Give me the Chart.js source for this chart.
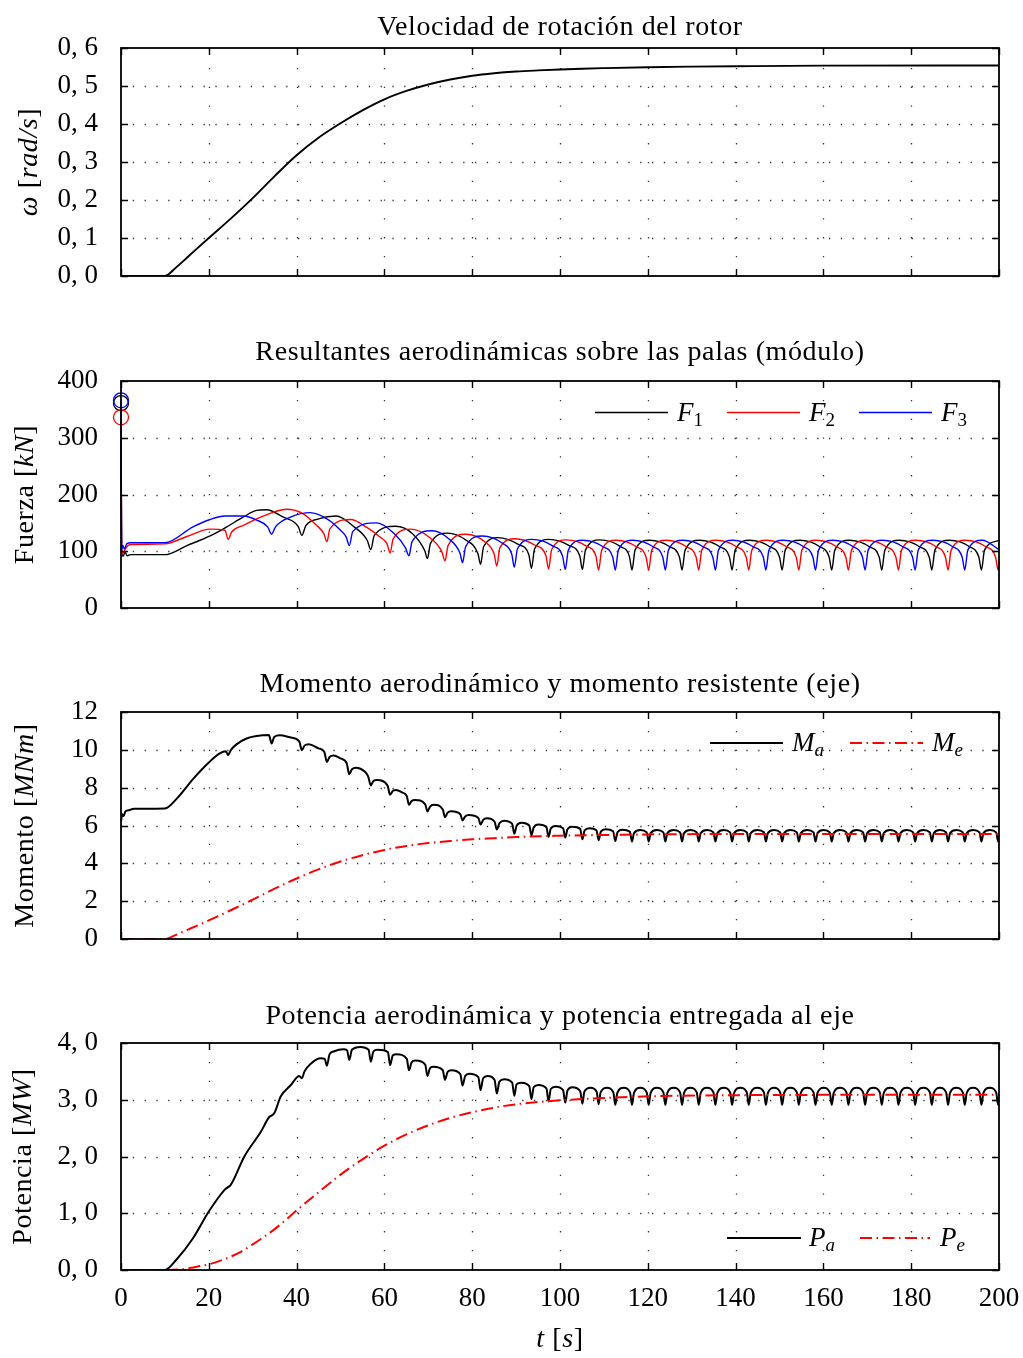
<!DOCTYPE html>
<html><head><meta charset="utf-8">
<script src="https://cdn.jsdelivr.net/npm/chart.js@4.4.1/dist/chart.umd.min.js"></script>
<style>
html,body{margin:0;padding:0;background:#fff;}
#wrap{position:relative;width:1023px;height:1358px;overflow:hidden;}
canvas{position:absolute;left:0;}
</style></head><body><div id="wrap">
<canvas id="c1" width="1023" height="300" style="top:0px"></canvas>
<canvas id="c2" width="1023" height="330" style="top:300px"></canvas>
<canvas id="c3" width="1023" height="330" style="top:630px"></canvas>
<canvas id="c4" width="1023" height="398" style="top:960px"></canvas>
</div>
<script>
// ---------------- data ----------------
const X_TICKS = [0,20,40,60,80,100,120,140,160,180,200];
const OMEGA_TICKS = [0,0.1,0.2,0.3,0.4,0.5,0.6];
const OMEGA_TICK_LABELS = ['0, 0','0, 1','0, 2','0, 3','0, 4','0, 5','0, 6'];
const FORCE_TICKS = [0,100,200,300,400];
const FORCE_TICK_LABELS = ['0','100','200','300','400'];
const MOMENT_TICKS = [0,2,4,6,8,10,12];
const MOMENT_TICK_LABELS = ['0','2','4','6','8','10','12'];
const POWER_TICKS = [0,1,2,3,4];
const POWER_TICK_LABELS = ['0, 0','1, 0','2, 0','3, 0','4, 0'];
const PANEL_TITLES = ['Velocidad de rotación del rotor','Resultantes aerodinámicas sobre las palas (módulo)','Momento aerodinámico y momento resistente (eje)','Potencia aerodinámica y potencia entregada al eje'];

// rotor speed [t, rad/s]
const OMEGA = [[0,0],[10,0],[12.5,0.022],[15,0.048],[20,0.1],[25,0.151],[30,0.205],[35,0.263],[40,0.318],[45,0.364],[50,0.402],[55,0.436],[60,0.465],[65,0.487],[70,0.504],[75,0.517],[80,0.527],[85,0.5335],[90,0.538],[95,0.541],[100,0.5435],[105,0.5455],[110,0.547],[120,0.5495],[130,0.551],[140,0.552],[160,0.5535],[200,0.554]];

// blade forces [t, kN]
const F1 = [[0,361],[0.15,100],[0.5,91],[0.9,99],[1.4,92],[2.2,94],[10,94],[15,110],[20.3,127],[24.1,143],[27.8,160],[30.9,172],[33.1,173],[37,160],[40.4,143],[41.2,128],[42.1,145],[45,157],[49,162],[53.1,143],[56.1,119],[56.9,103],[57.7,128],[62.6,144],[66.4,131],[69.2,101],[69.8,87],[70.5,114],[74.4,132],[78.5,120],[81.3,96],[81.9,77],[82.6,108],[85.9,124],[90.5,112],[92.9,94],[93.5,70],[94.2,104],[97.5,121],[102.1,110],[104.5,92],[105.1,68],[105.8,102],[109.1,120],[113.7,108.5],[115.8,91],[116.4,67],[117.1,102],[120.4,119.5],[125,108],[127.2,90],[127.8,67],[128.5,102],[131.8,119.5],[136.4,108],[138.6,90],[139.2,67],[139.9,102],[143.2,119.5],[147.8,108],[150,90],[150.6,67],[151.3,102],[154.6,119.5],[159.2,108],[161.3,90],[161.9,67],[162.6,102],[165.9,119.5],[170.5,108],[172.7,90],[173.3,67],[174,102],[177.3,119.5],[181.9,108],[184.1,90],[184.7,67],[185.4,102],[188.7,119.5],[193.3,108],[195.4,90],[196,67],[196.7,102],[200,119]];
const F2 = [[0,336],[0.15,100],[0.5,97],[1,104],[1.6,110],[2.5,112],[10,113],[15,126],[20.3,139],[23.7,137],[24.4,121],[25.2,134],[28,146],[31.8,160],[35.6,171],[37.7,174],[41.5,166],[44.5,146],[46.2,131],[46.9,117],[47.6,140],[52.3,156],[56,142],[59,125],[60.6,113],[61.3,97],[62,122],[66,139],[70,126],[73.1,99],[73.8,83],[74.5,110],[78.5,130],[83,116],[85,95],[85.6,74],[86.3,106],[89.8,122],[94.2,111],[96.8,92],[97.4,69],[98.1,103],[101.4,120],[106,109],[108.2,91],[108.8,67],[109.5,102],[112.8,119.5],[117.4,108],[119.6,90],[120.2,67],[120.9,102],[124.2,119.5],[128.8,108],[131,90],[131.6,67],[132.3,102],[135.6,119.5],[140.2,108],[142.4,90],[143,67],[143.7,102],[147,119.5],[151.6,108],[153.8,90],[154.4,67],[155.1,102],[158.4,119.5],[163,108],[165.1,90],[165.7,67],[166.4,102],[169.7,119.5],[174.3,108],[176.5,90],[177.1,67],[177.8,102],[181.1,119.5],[185.7,108],[187.8,90],[188.4,67],[189.1,102],[192.4,119.5],[197,108],[199.2,90],[199.8,67],[200,82]];
const F3 = [[0,366],[0.15,103],[0.4,110],[0.8,104],[1.3,113],[2.2,115],[10,115],[16.4,143],[20.3,156],[23.7,162],[27.8,162],[30.9,155],[33.4,143],[34.3,130],[35.2,143],[38.6,160],[43.1,168],[46.9,157],[50,137],[51.3,125],[52,110],[52.8,135],[58.3,150],[62.1,132],[64.8,106],[65.6,92],[66.3,117],[70.9,136],[74.5,123],[77.2,97],[77.8,80],[78.5,108],[82.3,127],[86.9,114],[89,95],[89.6,72],[90.3,104],[93.6,121],[98.2,110],[100.6,91],[101.2,68],[101.9,102],[105.2,119.5],[109.8,108],[112,90],[112.6,67],[113.3,102],[116.6,119.5],[121.2,108],[123.4,90],[124,67],[124.7,102],[128,119.5],[132.6,108],[134.8,90],[135.4,67],[136.1,102],[139.4,119.5],[144,108],[146.3,90],[146.9,67],[147.6,102],[150.9,119.5],[155.5,108],[157.6,90],[158.2,67],[158.9,102],[162.2,119.5],[166.8,108],[168.9,90],[169.5,67],[170.2,102],[173.5,119.5],[178.1,108],[180.3,90],[180.9,67],[181.6,102],[184.9,119.5],[189.5,108],[191.6,90],[192.2,67],[192.9,102],[196.2,119.5],[200,103]];

// aerodynamic moment Ma and shaft moment Me [t, MNm]
const MA = [[0,6.2],[0.3,6.6],[0.6,6.5],[1,6.75],[1.6,6.8],[3,6.88],[10,6.9],[12.7,7.42],[16.5,8.48],[20,9.33],[22.5,9.81],[23.9,9.92],[24.4,9.72],[25,9.98],[26.3,10.29],[28.6,10.6],[30.9,10.73],[33.7,10.78],[34.3,10.34],[34.9,10.68],[36.2,10.77],[38.5,10.66],[40.6,10.45],[41.2,9.98],[41.8,10.22],[42.8,10.3],[45,10.08],[46.3,9.9],[46.9,9.36],[47.5,9.62],[48.4,9.7],[50,9.55],[51.4,9.3],[52,8.71],[52.6,8.97],[53.6,9.05],[55.5,8.85],[56.3,8.6],[56.9,8.12],[57.5,8.35],[58.3,8.4],[60.7,8.12],[61.3,7.63],[61.9,7.82],[62.6,7.88],[64,7.75],[65.1,7.55],[65.6,7.1],[66.2,7.3],[67,7.35],[69.3,7.12],[69.8,6.74],[70.4,7.0],[71.2,7.1],[73.3,6.85],[73.8,6.44],[74.4,6.68],[75.2,6.75],[77.3,6.6],[77.8,6.27],[78.4,6.48],[79.2,6.55],[81.4,6.4],[81.9,6.05],[82.5,6.3],[83.4,6.38],[85.1,6.2],[85.6,5.79],[86.2,6.12],[87.3,6.25],[89.1,6.08],[89.6,5.56],[90.1,5.98],[91.2,6.15],[93,6.0],[93.5,5.48],[94,5.9],[95.1,6.05],[96.9,5.92],[97.4,5.4],[97.9,5.84],[99,5.97],[100.7,5.86],[101.2,5.36],[101.7,5.8],[102.8,5.93],[104.6,5.82],[105.1,5.27],[105.6,5.74],[106.7,5.86],[108.3,5.75],[108.8,5.22],[109.3,5.68],[110.4,5.8],[112.1,5.7],[112.6,5.18],[113.1,5.64],[114.2,5.77],[115.9,5.68],
[116.4,5.15],[116.85,5.6],[118.3,5.76],[119.75,5.64],[120.2,5.15],[120.65,5.6],[122.1,5.76],[123.55,5.64],[124,5.15],[124.45,5.6],[125.9,5.76],[127.35,5.64],[127.8,5.15],[128.25,5.6],[129.7,5.76],[131.15,5.64],[131.6,5.15],[132.05,5.6],[133.5,5.76],[134.95,5.64],[135.4,5.15],[135.85,5.6],[137.3,5.76],[138.75,5.64],[139.2,5.15],[139.65,5.6],[141.1,5.76],[142.55,5.64],[143,5.15],[143.45,5.6],[144.95,5.76],[146.45,5.64],[146.9,5.15],[147.35,5.6],[148.75,5.76],[150.15,5.64],[150.6,5.15],[151.05,5.6],[152.5,5.76],[153.95,5.64],[154.4,5.15],[154.85,5.6],[156.3,5.76],[157.75,5.64],[158.2,5.15],[158.65,5.6],[160.05,5.76],[161.45,5.64],[161.9,5.15],[162.35,5.6],[163.8,5.76],[165.25,5.64],[165.7,5.15],[166.15,5.6],[167.6,5.76],[169.05,5.64],[169.5,5.15],[169.95,5.6],[171.4,5.76],[172.85,5.64],[173.3,5.15],[173.75,5.6],[175.2,5.76],[176.65,5.64],[177.1,5.15],[177.55,5.6],[179,5.76],[180.45,5.64],[180.9,5.15],[181.35,5.6],[182.8,5.76],[184.25,5.64],[184.7,5.15],[185.15,5.6],[186.55,5.76],[187.95,5.64],[188.4,5.15],[188.85,5.6],[190.3,5.76],[191.75,5.64],[192.2,5.15],[192.65,5.6],[194.1,5.76],[195.55,5.64],[196,5.15],[196.45,5.6],[197.9,5.76],[199.35,5.64],[199.8,5.15],[200,5.45]];
const ME = [[0,0],[10,0],[11,0.06],[13,0.27],[15,0.47],[17.5,0.72],[20,0.98],[25,1.52],[30,2.08],[35,2.66],[40,3.2],[45,3.68],[50,4.1],[55,4.43],[60,4.71],[65,4.92],[70,5.07],[75,5.18],[80,5.27],[85,5.33],[90,5.39],[100,5.46],[110,5.5],[120,5.53],[140,5.55],[200,5.55]];

// aerodynamic power Pa and shaft power Pe [t, MW]
const PA = [[0,0],[10,0],[12.6,0.18],[16.4,0.56],[20,1.03],[23.7,1.42],[24.4,1.46],[25,1.5],[28.1,2.0],[31.9,2.44],[33.8,2.7],[34.3,2.72],[34.9,2.76],[36.4,3.06],[38.7,3.26],[40.6,3.42],[41.2,3.38],[41.8,3.5],[43.3,3.64],[45.5,3.73],[46.4,3.72],[46.9,3.6],[47.5,3.8],[48.4,3.85],[50.7,3.89],[51.5,3.87],[52,3.7],[52.6,3.88],[54.5,3.93],[56.4,3.88],[56.9,3.67],[57.5,3.85],[58.4,3.88],[60.8,3.84],[61.3,3.61],[61.9,3.78],[62.8,3.8],[65.1,3.72],[65.6,3.52],[66.2,3.66],[67.1,3.69],[69.3,3.62],[69.8,3.42],[70.4,3.56],[71.2,3.58],[73.3,3.52],[73.8,3.35],[74.4,3.49],[75.3,3.52],[77.3,3.45],[77.8,3.25],[78.4,3.42],[79.3,3.46],[81.4,3.4],[81.9,3.17],[82.5,3.38],[83.5,3.42],[85.1,3.35],[85.6,3.11],[86.2,3.32],[87.3,3.36],[89.1,3.3],[89.6,3.07],[90.1,3.27],[91.2,3.3],[93,3.24],[93.5,3.01],[94,3.22],[95.1,3.26],[96.9,3.2],[97.4,2.97],[97.9,3.19],[99,3.23],[100.7,3.17],[101.2,2.95],[101.7,3.16],[102.8,3.22],[104.6,3.15],[105.1,2.93],[105.55,3.14],[106.95,3.21],[108.35,3.14],[108.8,2.92],[109.25,3.13],[110.7,3.21],[112.15,3.13],[112.6,2.91],[113.05,3.12],[114.5,3.21],[115.95,3.13],
[116.4,2.91],[116.85,3.12],[118.3,3.21],[119.75,3.13],[120.2,2.91],[120.65,3.12],[122.1,3.21],[123.55,3.13],[124,2.91],[124.45,3.12],[125.9,3.21],[127.35,3.13],[127.8,2.91],[128.25,3.12],[129.7,3.21],[131.15,3.13],[131.6,2.91],[132.05,3.12],[133.5,3.21],[134.95,3.13],[135.4,2.91],[135.85,3.12],[137.3,3.21],[138.75,3.13],[139.2,2.91],[139.65,3.12],[141.1,3.21],[142.55,3.13],[143,2.91],[143.45,3.12],[144.95,3.21],[146.45,3.13],[146.9,2.91],[147.35,3.12],[148.75,3.21],[150.15,3.13],[150.6,2.91],[151.05,3.12],[152.5,3.21],[153.95,3.13],[154.4,2.91],[154.85,3.12],[156.3,3.21],[157.75,3.13],[158.2,2.91],[158.65,3.12],[160.05,3.21],[161.45,3.13],[161.9,2.91],[162.35,3.12],[163.8,3.21],[165.25,3.13],[165.7,2.91],[166.15,3.12],[167.6,3.21],[169.05,3.13],[169.5,2.91],[169.95,3.12],[171.4,3.21],[172.85,3.13],[173.3,2.91],[173.75,3.12],[175.2,3.21],[176.65,3.13],[177.1,2.91],[177.55,3.12],[179,3.21],[180.45,3.13],[180.9,2.91],[181.35,3.12],[182.8,3.21],[184.25,3.13],[184.7,2.91],[185.15,3.12],[186.55,3.21],[187.95,3.13],[188.4,2.91],[188.85,3.12],[190.3,3.21],[191.75,3.13],[192.2,2.91],[192.65,3.12],[194.1,3.21],[195.55,3.13],[196,2.91],[196.45,3.12],[197.9,3.21],[199.35,3.13],[199.8,2.91],[200,3.05]];
const PE = [[0,0],[10,0],[12,0.004],[14,0.015],[16,0.038],[18,0.07],[20,0.1],[22.5,0.16],[25,0.235],[27.5,0.33],[30,0.45],[32.5,0.58],[35,0.72],[37.5,0.88],[40,1.05],[45,1.37],[50,1.68],[55,1.95],[60,2.19],[65,2.39],[70,2.55],[75,2.68],[80,2.78],[85,2.86],[90,2.92],[100,2.99],[110,3.03],[120,3.06],[140,3.08],[200,3.09]];

// ---------------- drawing ----------------
const SERIF = "'Liberation Serif','DejaVu Serif',serif";
const DASHDOT = [12,4.5,1.5,4.5];
const toXY = arr => arr.map(p => ({x:p[0], y:p[1]}));
function fnt(sz, it){ return (it ? 'italic ' : '') + sz + 'px ' + SERIF; }
function richWidth(ctx, parts){ let w = 0; for (const p of parts){ ctx.font = fnt(p.s||28, p.i); w += ctx.measureText(p.t).width; } return w; }
function drawRich(ctx, parts, x, y, center, spacing){
  ctx.textAlign = 'left'; ctx.textBaseline = 'alphabetic'; ctx.fillStyle = '#000';
  try { ctx.letterSpacing = spacing || '0px'; } catch(e) {}
  let cx = center ? x - richWidth(ctx, parts)/2 : x;
  for (const p of parts){ ctx.font = fnt(p.s||28, p.i); ctx.fillText(p.t, cx, y + (p.dy||0)); cx += ctx.measureText(p.t).width; }
  try { ctx.letterSpacing = '0px'; } catch(e) {}
}

function panelPlugin(cfg){
  return {
    id: 'panelDeco',
    beforeDatasetsDraw(chart){
      const {ctx, chartArea:a} = chart; const xs = chart.scales.x, ys = chart.scales.y;
      ctx.save(); ctx.strokeStyle = '#333'; ctx.lineWidth = 1.3;
      ctx.setLineDash([1.3, 10.5]);
      ys.ticks.forEach(t => { const py = Math.round(ys.getPixelForValue(t.value)) + 0.5; if (py <= a.top + 2 || py >= a.bottom - 2) return; ctx.beginPath(); ctx.moveTo(a.left, py); ctx.lineTo(a.right, py); ctx.stroke(); });
      ctx.setLineDash([1.3, 17.5]);
      xs.ticks.forEach(t => { const px = Math.round(xs.getPixelForValue(t.value)) + 0.5; if (px <= a.left + 2 || px >= a.right - 2) return; ctx.beginPath(); ctx.moveTo(px, a.bottom); ctx.lineTo(px, a.top); ctx.stroke(); });
      ctx.restore();
    },
    afterDatasetsDraw(chart){
      const {ctx, chartArea:a} = chart; const xs = chart.scales.x, ys = chart.scales.y;
      ctx.save(); ctx.strokeStyle = '#000'; ctx.setLineDash([]);
      ctx.lineWidth = 1.4;
      xs.ticks.forEach(t => { const px = Math.round(xs.getPixelForValue(t.value)) + 0.5; ctx.beginPath(); ctx.moveTo(px, a.top); ctx.lineTo(px, a.top + 7); ctx.moveTo(px, a.bottom); ctx.lineTo(px, a.bottom - 7); ctx.stroke(); });
      ys.ticks.forEach(t => { const py = Math.round(ys.getPixelForValue(t.value)) + 0.5; ctx.beginPath(); ctx.moveTo(a.left, py); ctx.lineTo(a.left + 7, py); ctx.moveTo(a.right, py); ctx.lineTo(a.right - 7, py); ctx.stroke(); });
      ctx.lineWidth = 1.8;
      ctx.strokeRect(a.left, a.top, a.right - a.left, a.bottom - a.top);
      (cfg.legend || []).forEach(e => {
        const y = e.y - cfg.top;
        ctx.strokeStyle = e.color; ctx.lineWidth = e.w; ctx.setLineDash(e.dash || []);
        ctx.beginPath(); ctx.moveTo(e.x0, y); ctx.lineTo(e.x1, y); ctx.stroke();
        ctx.setLineDash([]);
        drawRich(ctx, [{t:e.label, i:true, s:27}, {t:e.sub, i:e.subIt, s:19, dy:5}], e.tx, y + 8, false);
      });
      ctx.restore();
    },
    afterDraw(chart){
      const {ctx, chartArea:a} = chart;
      ctx.save();
      drawRich(ctx, [{t:cfg.title, s:28}], (a.left + a.right)/2, cfg.titleY - cfg.top, true, '0.6px');
      ctx.translate(cfg.yTitleX, (a.top + a.bottom)/2);
      ctx.rotate(-Math.PI/2);
      drawRich(ctx, cfg.yTitle, 0, 8, true, '0.6px');
      ctx.restore();
      if (cfg.xTitle){ ctx.save(); drawRich(ctx, cfg.xTitle, (a.left + a.right)/2, cfg.xTitleY - cfg.top, true, '0.6px'); ctx.restore(); }
    }
  };
}

function makePanel(cfg){
  return new Chart(document.getElementById(cfg.id), {
    type: 'line',
    data: {datasets: cfg.datasets},
    options: {
      responsive: false, animation: false, devicePixelRatio: 1,
      layout: {padding: {top: cfg.padTop, right: 24, left: 0, bottom: 0}},
      plugins: {legend: {display: false}, tooltip: {enabled: false}, title: {display: false}},
      elements: {point: {radius: 0}},
      scales: {
        x: {type: 'linear', min: 0, max: 200,
            afterBuildTicks: s => { s.ticks = X_TICKS.map(v => ({value: v})); },
            grid: {display: false}, border: {display: false},
            ticks: {display: !!cfg.showX, color: '#000', font: {family: SERIF, size: 27}, padding: 5, maxRotation: 0, autoSkip: false, callback: v => String(v)},
            afterFit: s => { s.height = cfg.bottomH; s.paddingLeft = 0; s.paddingRight = 0; }},
        y: {type: 'linear', min: cfg.yTicks[0], max: cfg.yTicks[cfg.yTicks.length - 1],
            afterBuildTicks: s => { s.ticks = cfg.yTicks.map(v => ({value: v})); },
            grid: {display: false}, border: {display: false},
            ticks: {color: '#000', font: {family: SERIF, size: 27}, padding: 15, autoSkip: false,
                    callback: v => { const i = cfg.yTicks.findIndex(t => Math.abs(t - v) < 1e-9); return cfg.yLabels[i]; }},
            afterFit: s => { s.width = 121; s.paddingTop = 0; s.paddingBottom = 0; }}
      }
    },
    plugins: [panelPlugin(cfg)]
  });
}

function lineDs(label, data, color, width, extra){
  return Object.assign({label, data: toXY(data), borderColor: color, backgroundColor: color, borderWidth: width, pointRadius: 0, fill: false, cubicInterpolationMode: 'monotone', borderJoinStyle: 'round'}, extra || {});
}
function forceDs(label, data, color, order){
  return lineDs(label, data, color, 1.4, {order, clip: false,
    pointRadius: c => c.dataIndex === 0 ? 7.5 : 0, pointBorderColor: color, pointBackgroundColor: 'rgba(0,0,0,0)', pointBorderWidth: 1.3, pointStyle: 'circle'});
}

makePanel({id:'c1', top:0, padTop:48, bottomH:24, yTicks:OMEGA_TICKS, yLabels:OMEGA_TICK_LABELS,
  title:PANEL_TITLES[0], titleY:34.5, yTitleX:29,
  yTitle:[{t:'ω', i:true},{t:' ['},{t:'rad/s', i:true},{t:']'}],
  datasets:[lineDs('ω', OMEGA, '#000', 1.9)]});

makePanel({id:'c2', top:300, padTop:81, bottomH:22, yTicks:FORCE_TICKS, yLabels:FORCE_TICK_LABELS,
  title:PANEL_TITLES[1], titleY:360, yTitleX:25,
  yTitle:[{t:'Fuerza ['},{t:'kN', i:true},{t:']'}],
  legend:[
    {x0:595, x1:668, y:412.5, color:'#000', w:1.3, tx:677, label:'F', sub:'1', subIt:false},
    {x0:727, x1:800, y:412.5, color:'#ff0000', w:1.3, tx:809, label:'F', sub:'2', subIt:false},
    {x0:859, x1:932, y:412.5, color:'#0000ff', w:1.3, tx:941, label:'F', sub:'3', subIt:false}],
  datasets:[forceDs('F1', F1, '#000000', 3), forceDs('F2', F2, '#ff0000', 2), forceDs('F3', F3, '#0000ff', 1)]});

makePanel({id:'c3', top:630, padTop:82, bottomH:21, yTicks:MOMENT_TICKS, yLabels:MOMENT_TICK_LABELS,
  title:PANEL_TITLES[2], titleY:692, yTitleX:25,
  yTitle:[{t:'Momento ['},{t:'MNm', i:true},{t:']'}],
  legend:[
    {x0:710, x1:783, y:743, color:'#000', w:2, tx:792, label:'M', sub:'a', subIt:true},
    {x0:850, x1:923, y:743, color:'#ff0000', w:2, dash:DASHDOT, tx:932, label:'M', sub:'e', subIt:true}],
  datasets:[lineDs('Ma', MA, '#000', 2, {order:2}), lineDs('Me', ME, '#ff0000', 2, {order:1, borderDash:DASHDOT})]});

makePanel({id:'c4', top:960, padTop:83, bottomH:88, yTicks:POWER_TICKS, yLabels:POWER_TICK_LABELS, showX:true,
  title:PANEL_TITLES[3], titleY:1024, yTitleX:23,
  yTitle:[{t:'Potencia ['},{t:'MW', i:true},{t:']'}],
  xTitle:[{t:'t', i:true},{t:' ['},{t:'s', i:true},{t:']'}], xTitleY:1347,
  legend:[
    {x0:727, x1:801, y:1238, color:'#000', w:2, tx:809, label:'P', sub:'a', subIt:true},
    {x0:860, x1:930, y:1238, color:'#ff0000', w:2, dash:DASHDOT, tx:940, label:'P', sub:'e', subIt:true}],
  datasets:[lineDs('Pa', PA, '#000', 2, {order:2}), lineDs('Pe', PE, '#ff0000', 2, {order:1, borderDash:DASHDOT})]});
</script>
</body></html>
